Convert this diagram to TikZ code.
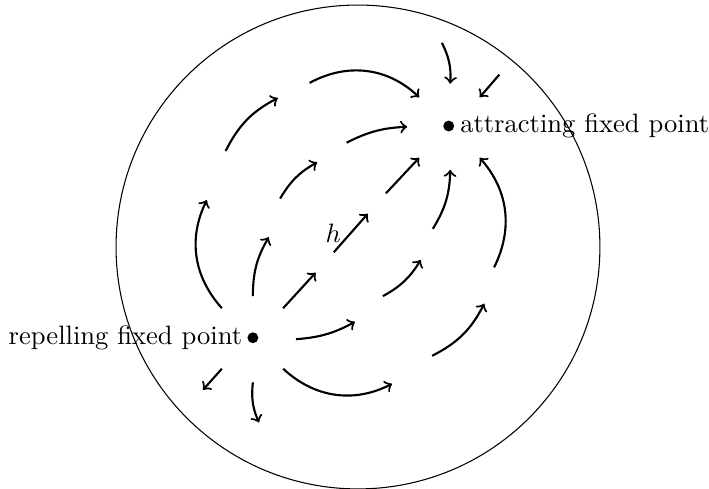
\documentclass[tikz,border=0pt]{standalone}
\usepackage{amssymb}
\usepackage{tikz}

\begin{document}
\begin{tikzpicture}[
    flow/.style={->, thick},
    fixpt/.style={circle, fill, inner sep=0pt, minimum size=4.1pt}
]
    \useasboundingbox (-4.735,-3.201) rectangle (4.643,3.267);

    % --- Disk ---
    \draw (0,0) circle (3.2);

    % --- Fixed points ---
    \node[fixpt, label={[inner sep=0pt, label distance=1.6pt]left:repelling fixed point}] (rep) at (-1.39,-1.2) {};
    \node[fixpt, label={[inner sep=0pt, label distance=1.9pt]right:attracting fixed point}] (att) at (1.2,1.6) {};

    % --- Diagonal flow line ---
    \draw[flow] (-0.99,-0.81) -- (-0.56,-0.34);
    \draw[flow] (-0.32,-0.07) -- node[left] {$h$} (0.13,0.44);
    \draw[flow] (0.37,0.71) -- (0.81,1.18);

    % --- Upper left, inner ---
    \draw[flow] (-1.39,-0.65) to[bend left=15] (-1.18,0.13);
    \draw[flow] (-1.03,0.64) to[bend left=15] (-0.54,1.12);
    \draw[flow] (-0.15,1.38) to[bend left=12] (0.65,1.59);

    % --- Upper left, outer ---
    \draw[flow] (-1.80,-0.81) to[bend left=34] (-2.00,0.62);
    \draw[flow] (-1.75,1.27) to[bend left=18] (-1.06,1.97);
    \draw[flow] (-0.64,2.17) to[bend left=36] (0.81,1.98);

    % --- Lower right, inner ---
    \draw[flow] (-0.82,-1.22) to[bend right=12] (-0.04,-0.99);
    \draw[flow] (0.33,-0.65) to[bend right=15] (0.83,-0.17);
    \draw[flow] (0.99,0.24) to[bend right=15] (1.22,1.02);

    % --- Lower right, outer ---
    \draw[flow] (-0.99,-1.61) to[bend right=35] (0.45,-1.81);
    \draw[flow] (0.98,-1.44) to[bend right=18] (1.67,-0.75);
    \draw[flow] (1.80,-0.27) to[bend right=34] (1.61,1.18);

    % --- Leaving the repelling point ---
    \draw[flow] (-1.80,-1.61) -- (-2.05,-1.89);
    \draw[flow] (-1.39,-1.79) to[bend right=15] (-1.31,-2.32);

    % --- Entering the attracting point ---
    \draw[flow] (1.11,2.70) to[bend left=15] (1.22,2.16);
    \draw[flow] (1.87,2.28) -- (1.61,1.98);

\end{tikzpicture}
\end{document}
